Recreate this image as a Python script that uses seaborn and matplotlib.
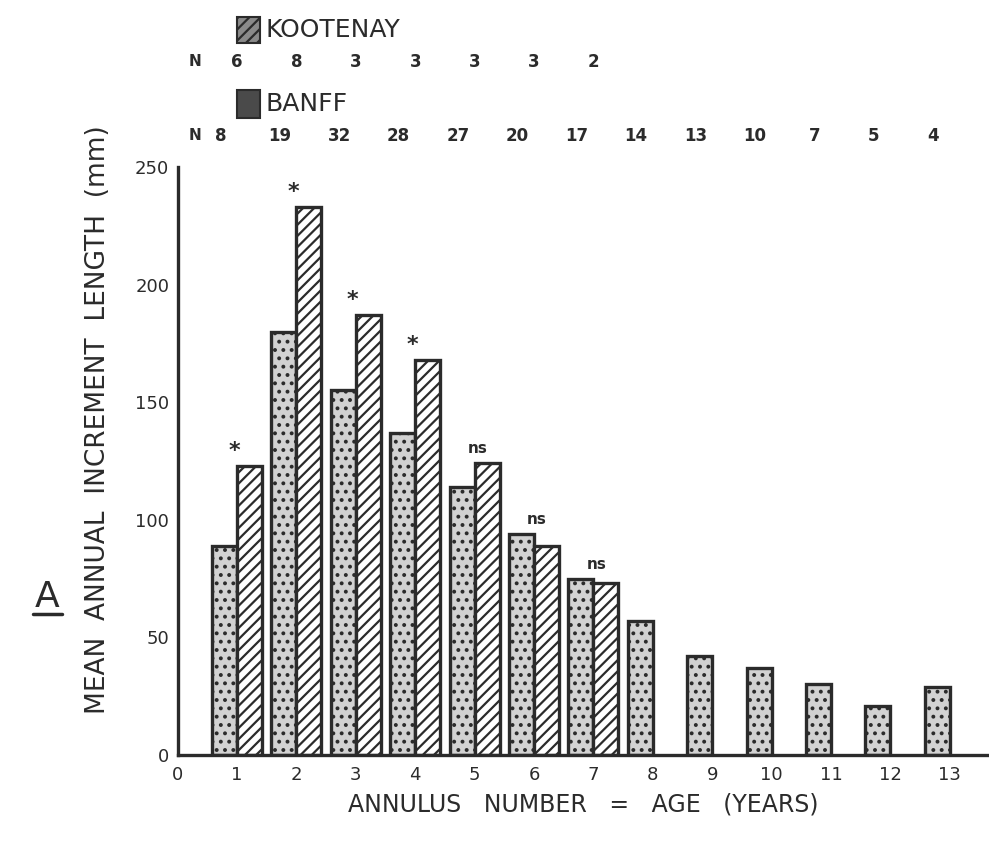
import seaborn as sns
import pandas as pd
import numpy as np
import matplotlib.pyplot as plt
from matplotlib.patches import Rectangle
from matplotlib.lines import Line2D
import matplotlib.transforms as mtransforms

### Datos
edades = [1, 2, 3, 4, 5, 6, 7, 8, 9, 10, 11, 12, 13]
banff = [89, 180, 155, 137, 114, 94, 75, 57, 42, 37, 30, 21, 29]
kootenay = [123, 233, 187, 168, 124, 89, 73]
n_banff = [8, 19, 32, 28, 27, 20, 17, 14, 13, 10, 7, 5, 4]
n_kootenay = [6, 8, 3, 3, 3, 3, 2]
signif = ["*", "*", "*", "*", "ns", "ns", "ns"]

# Formato largo para seaborn
df = pd.concat([
    pd.DataFrame({"Edad": edades, "Sitio": "BANFF", "Valor": banff}),
    pd.DataFrame({"Edad": edades[:len(kootenay)], "Sitio": "KOOTENAY", "Valor": kootenay}),
], ignore_index=True)

sns.set_style("white")
plt.rcParams['font.family'] = ['DejaVu Sans']
plt.rcParams['hatch.linewidth'] = 1.6
tinta = "#2b2b2b"

W, H = 989, 846
fig = plt.figure(figsize=(W / 100, H / 100), dpi=100)
ax = fig.add_axes([177.6 / W, 1 - 755 / H, 1 - 177.6 / W, (755 - 167) / H])

sns.barplot(data=df, x="Edad", y="Valor", hue="Sitio",
            hue_order=["BANFF", "KOOTENAY"],
            palette={"BANFF": "#d2d2d2", "KOOTENAY": "white"},
            native_scale=True, width=0.84, errorbar=None,
            edgecolor=tinta, linewidth=2.4, legend=False, ax=ax)

# Texturas: punteado para Banff, rayado para Kootenay
for barra in ax.containers[0]:
    barra.set_hatch("..")
for barra in ax.containers[1]:
    barra.set_hatch("///")

# Marcas de significancia
for i, s in enumerate(signif):
    tope = max(banff[i], kootenay[i])
    if s == "*":
        ax.text(edades[i] - 0.05, kootenay[i] + 2, s, ha="center", va="bottom",
                fontsize=16, fontweight="bold", color=tinta)
    else:
        ax.text(edades[i] + 0.05, tope + 3, s, ha="center", va="bottom",
                fontsize=11, fontweight="bold", color=tinta)

## Ejes
ax.set_xlim(0, (W - 177.6) / 59.4)
ax.set_ylim(0, 250)
ax.set_xticks(range(0, 14))
ax.set_yticks(range(0, 251, 50))
ax.tick_params(axis="x", length=0, pad=8, labelsize=13, colors=tinta)
ax.tick_params(axis="y", direction="in", length=9, width=1.6, pad=6,
               labelsize=13, colors=tinta)
for lado in ["top", "right"]:
    ax.spines[lado].set_visible(False)
for lado in ["left", "bottom"]:
    ax.spines[lado].set_linewidth(2.4)
    ax.spines[lado].set_color(tinta)

ax.set_xlabel("ANNULUS   NUMBER   =   AGE   (YEARS)", fontsize=17, color=tinta, labelpad=6)
ax.set_ylabel("MEAN  ANNUAL  INCREMENT  LENGTH  (mm)", fontsize=19, color=tinta)
ax.yaxis.set_label_coords(-0.082, 0.57)

## Filas de N y leyenda en la parte superior
trans = mtransforms.blended_transform_factory(ax.transData, fig.transFigure)
y_nk = 1 - 62 / H
y_nb = 1 - 136 / H
x_n = (195 - 177.6) / 59.4
ax.text(x_n, y_nk, "N", transform=trans, ha="center", va="center",
        fontsize=11, fontweight="bold", color=tinta)
ax.text(x_n, y_nb, "N", transform=trans, ha="center", va="center",
        fontsize=11, fontweight="bold", color=tinta)
for e, n in zip(edades, n_kootenay):
    ax.text(e, y_nk, str(n), transform=trans, ha="center", va="center",
            fontsize=12, fontweight="bold", color=tinta)
for e, n in zip(edades, n_banff):
    ax.text(e - 0.28, y_nb, str(n), transform=trans, ha="center", va="center",
            fontsize=12, fontweight="bold", color=tinta)

fig.add_artist(Rectangle((237 / W, 1 - 43 / H), 23 / W, 26 / H, transform=fig.transFigure,
                         facecolor="#8a8a8a", edgecolor=tinta, hatch="///", linewidth=1.5))
fig.text(265 / W, 1 - 30 / H, "KOOTENAY", fontsize=18, color=tinta, va="center", ha="left")
fig.add_artist(Rectangle((237 / W, 1 - 118 / H), 23 / W, 28 / H, transform=fig.transFigure,
                         facecolor="#4a4a4a", edgecolor=tinta, linewidth=1.5))
fig.text(265 / W, 1 - 104 / H, "BANFF", fontsize=18, color=tinta, va="center", ha="left")

# Letra "A" subrayada del panel
fig.text(47 / W, 1 - 597 / H, "A", fontsize=26, color=tinta, ha="center", va="center")
fig.add_artist(Line2D([33 / W, 62 / W], [1 - 614 / H, 1 - 614 / H], transform=fig.transFigure,
                      color=tinta, linewidth=2.5))

plt.savefig("out.png", dpi=100)
